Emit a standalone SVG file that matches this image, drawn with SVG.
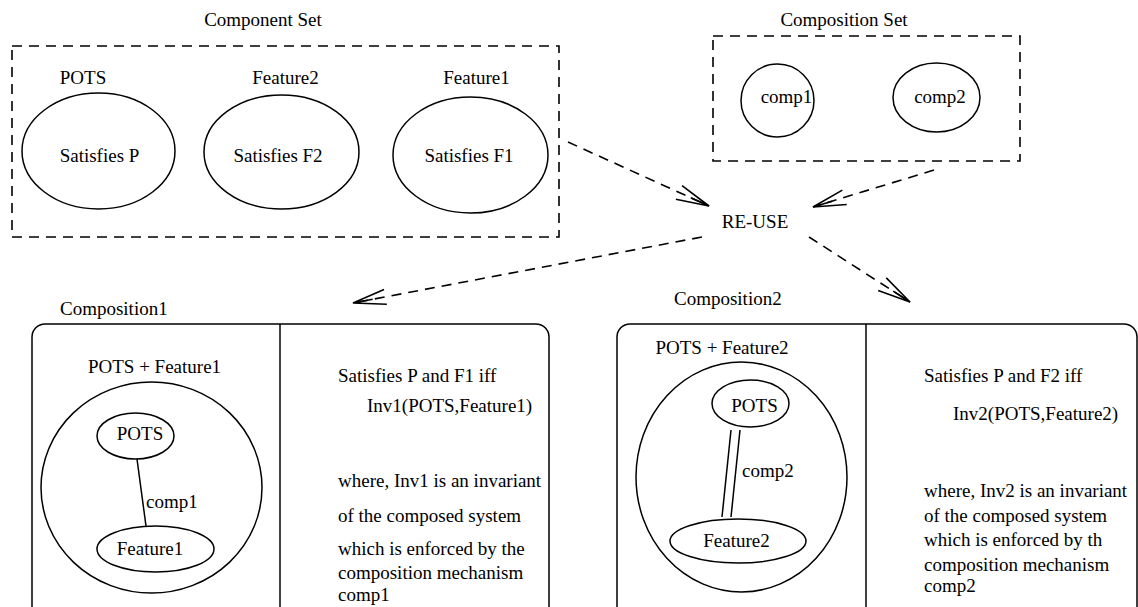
<svg xmlns="http://www.w3.org/2000/svg" width="1138" height="607" viewBox="0 0 1138 607" font-family="Liberation Serif, Times New Roman, serif">
<style>
text{font-family:"Liberation Serif","Times New Roman",serif;font-size:19px;fill:#000}
.c{text-anchor:middle}
.s{fill:none;stroke:#000;stroke-width:1.5}
.d{fill:none;stroke:#000;stroke-width:1.6;stroke-dasharray:10,7}
</style>
<defs>
<marker id="ah" markerUnits="userSpaceOnUse" markerWidth="40" markerHeight="24" refX="34" refY="12" orient="auto" viewBox="0 0 40 24">
<path d="M1,4.5 L34,12 L1,19.5 M14,12 L34,12" fill="none" stroke="#000" stroke-width="1.6"/>
</marker>
</defs>
<rect width="1138" height="607" fill="#fff"/>
<g id="component-set">
<text class="c" x="263" y="26">Component Set</text>
<rect class="d" x="12" y="46" width="547" height="191"/>
</g>
<g id="pots">
<text class="c" x="83" y="84">POTS</text>
<ellipse class="s" cx="98.5" cy="151" rx="76.5" ry="58"/>
<text class="c" x="99.5" y="162">Satisfies P</text>
</g>
<g id="feature2">
<text class="c" x="285.5" y="84">Feature2</text>
<ellipse class="s" cx="281.5" cy="152" rx="77.5" ry="57"/>
<text class="c" x="278" y="162">Satisfies F2</text>
</g>
<g id="feature1">
<text class="c" x="476.5" y="84">Feature1</text>
<ellipse class="s" cx="470.5" cy="155" rx="77.5" ry="58"/>
<text class="c" x="469" y="162">Satisfies F1</text>
</g>
<g id="composition-set">
<text class="c" x="844" y="26">Composition Set</text>
<rect class="d" x="713" y="36" width="307" height="125"/>
</g>
<g id="comp1">
<ellipse class="s" cx="777.5" cy="100.5" rx="36.5" ry="36.5"/>
<text class="c" x="786.5" y="103">comp1</text>
</g>
<g id="comp2">
<ellipse class="s" cx="936.5" cy="97.5" rx="43.5" ry="34.5"/>
<text class="c" x="940" y="103">comp2</text>
</g>
<g id="reuse">
<text class="c" x="755" y="228">RE-USE</text>
</g>
<g id="composition1">
<text x="60" y="315">Composition1</text>
<rect class="s" x="32" y="324" width="517" height="310" rx="13"/>
<line class="s" x1="280" y1="324" x2="280" y2="607"/>
<text class="c" x="154.5" y="373">POTS + Feature1</text>
<ellipse class="s" cx="151.5" cy="487.5" rx="110.5" ry="105.5"/>
<ellipse class="s" cx="135.5" cy="436" rx="38.5" ry="23"/>
<text class="c" x="140" y="440">POTS</text>
<line class="s" x1="137" y1="459" x2="146" y2="526"/>
<text x="146" y="508">comp1</text>
<ellipse class="s" cx="155.5" cy="549" rx="58.5" ry="23"/>
<text class="c" x="150" y="555">Feature1</text>
<text x="338" y="382">Satisfies P and F1 iff</text>
<text x="367" y="412">Inv1(POTS,Feature1)</text>
<text x="338" y="487">where, Inv1 is an invariant</text>
<text x="338" y="522">of the composed system</text>
<text x="338" y="555">which is enforced by the</text>
<text x="338" y="579">composition mechanism</text>
<text x="338" y="601">comp1</text>
</g>
<g id="composition2">
<text x="674" y="305">Composition2</text>
<rect class="s" x="617" y="324" width="520" height="310" rx="13"/>
<line class="s" x1="866" y1="324" x2="866" y2="607"/>
<text class="c" x="722" y="354">POTS + Feature2</text>
<ellipse class="s" cx="741.5" cy="477" rx="105.5" ry="115"/>
<ellipse class="s" cx="750.5" cy="403.5" rx="38.5" ry="23.5"/>
<text class="c" x="754.5" y="412">POTS</text>
<line class="s" x1="731" y1="430" x2="722" y2="517"/>
<line class="s" x1="740" y1="430" x2="731" y2="517"/>
<text x="742" y="477">comp2</text>
<ellipse class="s" cx="738" cy="541" rx="68" ry="22"/>
<text class="c" x="736.5" y="547">Feature2</text>
<text x="924" y="382">Satisfies P and F2 iff</text>
<text x="953" y="420">Inv2(POTS,Feature2)</text>
<text x="924" y="497">where, Inv2 is an invariant</text>
<text x="924" y="522">of the composed system</text>
<text x="924" y="546">which is enforced by th</text>
<text x="924" y="571">composition mechanism</text>
<text x="924" y="592">comp2</text>
</g>
<g id="connectors">
<line class="d" x1="568" y1="142" x2="709" y2="206" marker-end="url(#ah)"/>
<line class="d" x1="934" y1="170" x2="813" y2="207" marker-end="url(#ah)"/>
<line class="d" x1="702" y1="237" x2="353" y2="303" marker-end="url(#ah)"/>
<line class="d" x1="809" y1="237" x2="910" y2="302" marker-end="url(#ah)"/>
</g>
</svg>
